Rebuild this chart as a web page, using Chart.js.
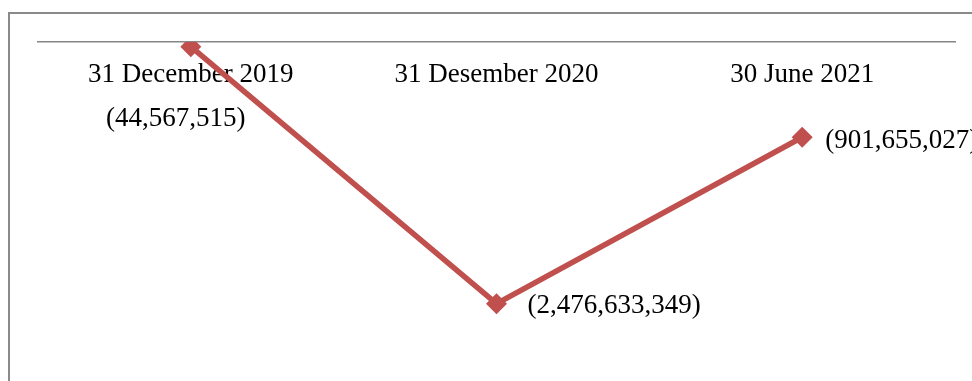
<!DOCTYPE html>
<html>
<head>
<meta charset="utf-8">
<script src="https://cdn.jsdelivr.net/npm/chart.js@4"></script>
<style>
	body { margin: 0; background: #fff; }
	#wrap { position: relative; width: 972px; height: 381px; overflow: hidden; }
	#frame { position: absolute; left: 8px; top: 12px; width: 1000px; height: 400px; border: 2px solid #8a8a8a; }
	#chart1 { position: absolute; left: 0; top: 0; }
</style>
</head>
<body>
<div id="wrap">
	<div id="frame"></div>
	<canvas id="chart1" width="972" height="381"></canvas>
</div>
<script>
const categories = ['31 December 2019', '31 Desember 2020', '30 June 2021']
const values = [-44567515, -2476633349, -901655027]
const valueLabels = ['(44,567,515)', '(2,476,633,349)', '(901,655,027)']

const serif = '"Liberation Serif", "Times New Roman", serif'

// where each value label sits relative to its point
const labelPlacement = [
	{ dx: -15, dy: 72, align: 'center' },
	{ dx: 31, dy: 2, align: 'left' },
	{ dx: 23, dy: 4, align: 'left' },
]

const valueLabelPlugin = {
	id: 'valueLabels',
	afterDatasetsDraw(chart) {
		const { ctx } = chart
		const points = chart.getDatasetMeta(0).data
		ctx.save()
		ctx.font = '27px ' + serif
		ctx.fillStyle = '#000'
		ctx.textBaseline = 'middle'
		points.forEach((pt, i) => {
			const place = labelPlacement[i]
			ctx.textAlign = place.align
			ctx.fillText(valueLabels[i], pt.x + place.dx, pt.y + place.dy)
		})
		ctx.restore()
	},
}

const chartData = {
	labels: categories,
	datasets: [
		{
			data: values,
			borderColor: 'rgba(192, 80, 77, 1)',
			backgroundColor: 'rgba(192, 80, 77, 1)',
			borderWidth: 5.5,
			pointStyle: 'rectRot',
			pointRadius: 10.5,
			pointHoverRadius: 10.5,
			pointBorderWidth: 0,
			tension: 0,
		},
	],
}

const optionsData = {
	responsive: false,
	animation: false,
	layout: {
		padding: { left: 38, right: 17, top: 42, bottom: 22 },
	},
	plugins: {
		legend: { display: false },
		tooltip: { enabled: false },
	},
	scales: {
		x: {
			type: 'category',
			offset: true,
			position: { y: 0 },
			grid: { display: false },
			border: { display: true, color: '#868686', width: 1.5 },
			ticks: {
				color: '#000',
				font: { family: serif, size: 27 },
				padding: 9,
				maxRotation: 0,
			},
		},
		y: {
			display: false,
			min: -3000000000,
			max: 0,
		},
	},
}

new Chart('chart1', { type: 'line', data: chartData, options: optionsData, plugins: [valueLabelPlugin] })
</script>
</body>
</html>
